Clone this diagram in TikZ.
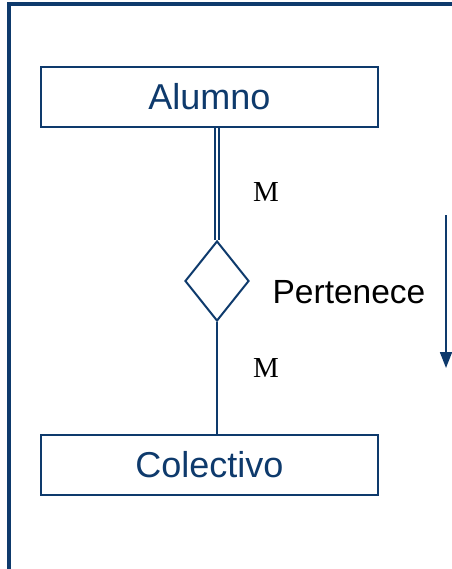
\documentclass[tikz,border=0pt]{standalone}
\usepackage{fontspec}
\setmainfont{Liberation Serif}
\setsansfont{Liberation Sans}
\usetikzlibrary{shapes.geometric,arrows.meta}
\definecolor{erblue}{RGB}{14,58,108}
\tikzset{
  entity/.style={draw=erblue, line width=2.2pt, minimum width=337pt, minimum height=60pt, inner sep=0pt,
    text=erblue, font=\sffamily\fontsize{36}{40}\selectfont},
  relship/.style={draw=erblue, line width=2pt, diamond, minimum width=64pt, minimum height=80pt, inner sep=0pt},
  link/.style={draw=erblue, line width=1.8pt},
  card/.style={font=\rmfamily\fontsize{29}{32}\selectfont, text=black},
  rellabel/.style={font=\sffamily\fontsize{33.5}{36}\selectfont, text=black}
}
\begin{document}
\begin{tikzpicture}[x=1pt,y=-1pt]
\useasboundingbox (0,0) rectangle (451,569);
\draw[erblue, line width=3.2pt] (452,4) -- (9,4) -- (9,570);
\node[entity] (alumno) at (209.5,97) {Alumno};
\node[entity] (colectivo) at (209.5,465) {Colectivo};
\node[relship] (rel) at (217,281) {};
\draw[link, double=white, double distance=2pt, line width=1.7pt] (alumno.south -| rel.north) -- (rel.north);
\draw[link] (rel.south) -- (colectivo.north -| rel.south);
\node[card] (m1) at (266,192) {M};
\node[card] (m2) at (266,368) {M};
\node[rellabel] (pert) at (349,292) {Pertenece};
\coordinate (a1) at (446,215);
\coordinate (a2) at (446,368);
\draw[erblue, line width=1.8pt, -{Triangle[length=16pt,width=12pt]}] (a1) -- (a2);
\end{tikzpicture}
\end{document}
